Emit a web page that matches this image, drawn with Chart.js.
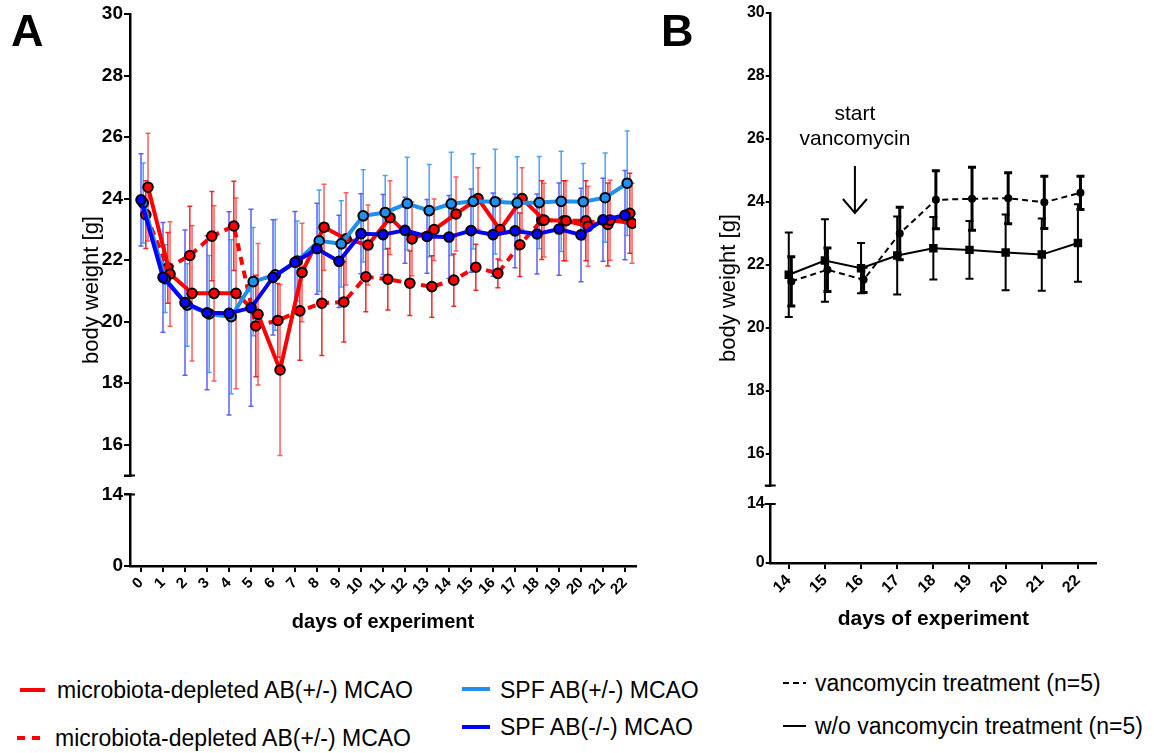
<!DOCTYPE html>
<html><head><meta charset="utf-8">
<script src="https://cdn.jsdelivr.net/npm/chart.js@4.4.1/dist/chart.umd.min.js"></script>
<style>
html,body{margin:0;padding:0;background:#fff;width:1154px;height:753px;overflow:hidden;font-family:"Liberation Sans",Arial,sans-serif;}
.abs{position:absolute;}
.t{position:absolute;white-space:nowrap;color:#000;}
</style></head><body>
<div class="abs" style="left:0;top:0;width:650px;height:640px;"><canvas id="ca" width="650" height="640"></canvas></div>
<div class="abs" style="left:650px;top:0;width:504px;height:640px;"><canvas id="cb" width="504" height="640"></canvas></div>

<div class="t" style="left:11px;top:8px;font-size:45px;line-height:45px;font-weight:bold;">A</div>
<div class="t" style="left:661px;top:8px;font-size:45px;line-height:45px;font-weight:bold;">B</div>
<div class="t" style="left:91px;top:290px;font-size:22px;line-height:24px;transform:translate(-50%,-50%) rotate(-90deg);">body weight [g]</div>
<div class="t" style="left:728px;top:288px;font-size:22px;line-height:24px;transform:translate(-50%,-50%) rotate(-90deg);">body weight [g]</div>

<!-- legends -->
<svg class="abs" style="left:0;top:660px;" width="1154" height="93">
  <line x1="20" y1="30" x2="45" y2="30" stroke="#ff0000" stroke-width="4"/>
  <line x1="17" y1="78" x2="42" y2="78" stroke="#ff0000" stroke-width="4" stroke-dasharray="8,7"/>
  <line x1="462" y1="29" x2="490" y2="29" stroke="#1e90f0" stroke-width="4"/>
  <line x1="462" y1="67" x2="490" y2="67" stroke="#0000ff" stroke-width="4"/>
  <line x1="783" y1="23" x2="806" y2="23" stroke="#000" stroke-width="2" stroke-dasharray="6,4"/>
  <line x1="783" y1="66" x2="806" y2="66" stroke="#000" stroke-width="2"/>
</svg>
<div class="t" style="left:57px;top:690px;font-size:23px;line-height:26px;transform:translateY(-50%);">microbiota-depleted AB(+/-) MCAO</div>
<div class="t" style="left:55px;top:738px;font-size:23px;line-height:26px;transform:translateY(-50%);">microbiota-depleted AB(+/-) MCAO</div>
<div class="t" style="left:500px;top:690px;font-size:23px;line-height:26px;transform:translateY(-50%);">SPF AB(+/-) MCAO</div>
<div class="t" style="left:500px;top:727px;font-size:23px;line-height:26px;transform:translateY(-50%);">SPF AB(-/-) MCAO</div>
<div class="t" style="left:815px;top:683px;font-size:23px;line-height:26px;transform:translateY(-50%);">vancomycin treatment (n=5)</div>
<div class="t" style="left:815px;top:726px;font-size:23px;line-height:26px;transform:translateY(-50%);">w/o vancomycin treatment (n=5)</div>

<script>
// ---------------- DATA ----------------
const daysA = [0,1,2,3,4,5,6,7,8,9,10,11,12,13,14,15,16,17,18,19,20,21,22];
// microbiota-depleted AB(+/-) MCAO (solid red)
const rsMean = [24.37,21.55,20.92,20.92,20.92,20.24,18.43,21.6,23.07,22.69,22.49,23.38,22.69,22.99,23.5,24.0,22.99,24.0,23.3,23.28,23.1,23.3,23.2];
const rsErr  = [1.75,1.7,2.2,2.85,3.1,2.3,2.78,1.6,1.4,1.5,1.3,1.2,1.2,1.0,1.2,1.0,1.0,1.0,1.2,1.3,1.3,1.3,1.3];
// microbiota-depleted AB(+/-) MCAO (dashed red)
const rdMean = [23.48,21.75,22.15,22.78,23.11,19.86,20.04,20.35,20.6,20.64,21.46,21.38,21.25,21.14,21.35,21.77,21.57,22.5,23.3,23.28,23.28,23.16,23.52];
const rdErr  = [1.1,1.15,1.6,1.45,1.45,1.65,1.2,1.6,1.7,1.3,1.14,1.0,1.05,1.0,0.85,0.75,0.47,1.03,1.28,1.3,1.3,1.35,1.3];
// SPF AB(+/-) MCAO (light blue)
const lbMean = [23.86,21.4,20.54,20.25,20.16,21.3,21.52,21.97,22.63,22.53,23.44,23.55,23.84,23.61,23.83,23.91,23.9,23.86,23.87,23.91,23.9,24.03,24.5];
const lbErr  = [1.3,1.1,1.34,1.9,2.5,1.76,1.8,1.3,1.65,1.4,1.5,1.2,1.5,1.5,1.68,1.55,1.7,1.5,1.5,1.63,1.24,1.45,1.7];
// SPF AB(-/-) MCAO (dark blue)
const dbMean = [23.96,21.44,20.62,20.29,20.27,20.45,21.44,21.93,22.37,21.96,22.86,22.83,22.97,22.77,22.75,22.96,22.83,22.95,22.85,23.01,22.82,23.31,23.46];
const dbErr  = [1.5,1.78,2.36,2.5,3.3,3.2,1.87,1.65,1.48,1.5,1.3,1.3,1.07,1.2,1.35,1.35,1.35,1.2,1.3,1.5,1.52,1.35,1.45];

const daysB = [14,15,16,17,18,19,20,21,22];
const vancoMean = [21.48,21.85,21.53,23.0,24.07,24.1,24.12,23.99,24.29];
const vancoErr  = [0.78,0.69,0.4,0.83,0.92,1.0,0.81,0.83,0.53];
const woMean    = [21.69,22.14,21.9,22.3,22.53,22.48,22.4,22.33,22.7];
const woErr     = [1.34,1.31,0.8,1.24,0.99,0.92,1.2,1.15,1.23];

const yTicksUpper = [16,18,20,22,24,26,28,30];
const yTicksLower = [0,14];
const annotation = {x: 15.83, line1: 'start', line2: 'vancomycin', y1: 26.78, y2: 25.98, arrowFrom: 25.14, arrowTo: 23.65};

// ---------------- HELPERS ----------------
Chart.defaults.font.family = '"Liberation Sans", Arial, sans-serif';
Chart.defaults.color = '#000';

function pts(days, vals, off) { return days.map((d, i) => ({x: d + off, y: vals[i]})); }

const errorBars = {
  id: 'errorBars',
  beforeDatasetsDraw(chart) {
    const ctx = chart.ctx;
    chart.data.datasets.forEach((ds, i) => {
      if (!ds.errors) return;
      const meta = chart.getDatasetMeta(i);
      const ys = chart.scales[meta.yAxisID];
      ctx.save();
      ctx.strokeStyle = ds.errColor;
      ctx.lineWidth = ds.errWidth;
      const cap = ds.errCap;
      meta.data.forEach((pt, j) => {
        const v = ds.data[j].y, e = ds.errors[j];
        const x = pt.x, y1 = ys.getPixelForValue(v + e), y2 = ys.getPixelForValue(v - e);
        ctx.beginPath();
        ctx.moveTo(x, y1); ctx.lineTo(x, y2);
        ctx.moveTo(x - cap, y1); ctx.lineTo(x + cap, y1);
        ctx.moveTo(x - cap, y2); ctx.lineTo(x + cap, y2);
        ctx.stroke();
      });
      ctx.restore();
    });
  }
};

const axisCaps = {
  id: 'axisCaps',
  afterDraw(chart) {
    const ctx = chart.ctx, top = chart.scales.yTop, bot = chart.scales.yBot;
    const x = chart.chartArea.left;
    ctx.save();
    ctx.strokeStyle = '#000'; ctx.lineWidth = 2;
    ctx.beginPath();
    const a = top.getPixelForValue(15), b = bot.getPixelForValue(14);
    ctx.moveTo(x - 6, a); ctx.lineTo(x + 5, a);
    ctx.moveTo(x - 6, b); ctx.lineTo(x + 5, b);
    ctx.stroke();
    ctx.restore();
  }
};

function zeroPad(s) { s.paddingLeft = 0; s.paddingRight = 0; s.paddingTop = 0; s.paddingBottom = 0; }

function makeX(days, min, max, tickSize, titleSize, titlePad, height) {
  return {
    type: 'linear', position: 'bottom', min: min, max: max,
    afterBuildTicks: s => { s.ticks = days.map(v => ({value: v})); },
    afterFit: s => { s.height = height; zeroPad(s); },
    ticks: {autoSkip: false, maxRotation: 45, minRotation: 45, padding: 2, color: '#000',
            font: {size: tickSize, weight: 'bold'}, callback: v => String(v)},
    grid: {drawOnChartArea: false, drawTicks: true, tickLength: 6, color: '#000', lineWidth: 2},
    border: {display: true, color: '#000', width: 2.5},
    title: {display: true, text: 'days of experiment', color: '#000',
            font: {size: titleSize, weight: 'bold'}, padding: {top: 0, bottom: titlePad}}
  };
}

function makeYScales(width, wTop, wGap, wBot, tickSize, tickLen) {
  const common = {
    position: 'left', stack: 'yy',
    border: {display: true, color: '#000', width: 2.5},
    grid: {drawOnChartArea: false, drawTicks: true, tickLength: tickLen, color: '#000', lineWidth: 2},
    ticks: {padding: 1, color: '#000', font: {size: tickSize, weight: 'bold'}}
  };
  return {
    yTop: Object.assign({}, common, {
      type: 'linear', weight: 3, stackWeight: wTop, min: 15, max: 30,
      afterBuildTicks: s => { s.ticks = [15].concat(yTicksUpper).map(v => ({value: v})); },
      afterFit: s => { s.width = width; zeroPad(s); },
      ticks: Object.assign({}, common.ticks, {callback: v => (v === 15 ? '' : String(v))})
    }),
    yGap: {
      type: 'linear', position: 'left', stack: 'yy', weight: 2, stackWeight: wGap, min: 0, max: 1,
      afterFit: s => { s.width = width; zeroPad(s); },
      ticks: {display: false}, grid: {display: false}, border: {display: false}
    },
    yBot: Object.assign({}, common, {
      type: 'linear', weight: 1, stackWeight: wBot, min: 0, max: 14,
      afterBuildTicks: s => { s.ticks = yTicksLower.map(v => ({value: v})); },
      afterFit: s => { s.width = width; zeroPad(s); },
      ticks: Object.assign({}, common.ticks, {callback: v => String(v)})
    })
  };
}

function seriesA(label, mean, err, off, color, errColor, dash, order) {
  return {
    label: label, data: pts(daysA, mean, off), errors: err, errColor: errColor, errWidth: 1.5, errCap: 2.5,
    yAxisID: 'yTop', xAxisID: 'x', order: order,
    borderColor: color, borderWidth: 4, borderDash: dash, backgroundColor: color,
    pointRadius: 4.8, pointBorderWidth: 2, pointBorderColor: '#000', pointBackgroundColor: color,
    tension: 0, fill: false
  };
}

// ---------------- PANEL A ----------------
new Chart(document.getElementById('ca'), {
  type: 'line',
  data: {datasets: [
    seriesA('SPF AB(-/-) MCAO', dbMean, dbErr, 0, '#0000ff', 'rgba(40,40,255,0.75)', [], 0),
    seriesA('SPF AB(+/-) MCAO', lbMean, lbErr, 0.1, '#1e90f0', 'rgba(30,140,255,0.8)', [], 1),
    seriesA('microbiota-depleted AB(+/-) MCAO', rsMean, rsErr, 0.32, '#ff0000', 'rgba(255,40,40,0.75)', [], 2),
    seriesA('microbiota-depleted AB(+/-) MCAO', rdMean, rdErr, 0.22, '#ff0000', 'rgba(240,0,0,0.85)', [8, 6], 3)
  ]},
  options: {
    responsive: false, animation: false,
    layout: {padding: {left: 0, top: 14, right: 14, bottom: 0}},
    plugins: {legend: {display: false}, tooltip: {enabled: false}},
    scales: Object.assign({x: makeX(daysA, -0.5, 22.5, 15, 20, 6, 74)},
                          makeYScales(130, 461.5, 18.9, 71.6, 19, 6))
  },
  plugins: [errorBars, axisCaps]
});

// ---------------- PANEL B ----------------
const annotPlugin = {
  id: 'annot',
  afterDatasetsDraw(chart) {
    const ctx = chart.ctx, xs = chart.scales.x, ys = chart.scales.yTop;
    const x = xs.getPixelForValue(annotation.x);
    ctx.save();
    ctx.fillStyle = '#000';
    ctx.font = '21px "Liberation Sans", Arial, sans-serif';
    ctx.textAlign = 'center'; ctx.textBaseline = 'middle';
    ctx.fillText(annotation.line1, x, ys.getPixelForValue(annotation.y1));
    ctx.fillText(annotation.line2, x, ys.getPixelForValue(annotation.y2));
    const a = ys.getPixelForValue(annotation.arrowFrom), b = ys.getPixelForValue(annotation.arrowTo);
    ctx.strokeStyle = '#000'; ctx.lineWidth = 2;
    ctx.beginPath();
    ctx.moveTo(x, a); ctx.lineTo(x, b);
    ctx.moveTo(x - 12, b - 14); ctx.lineTo(x, b); ctx.lineTo(x + 12, b - 14);
    ctx.stroke();
    ctx.restore();
  }
};

new Chart(document.getElementById('cb'), {
  type: 'line',
  data: {datasets: [
    {label: 'vancomycin treatment (n=5)', data: pts(daysB, vancoMean, 0.07), errors: vancoErr,
     errColor: '#000', errWidth: 3, errCap: 4, yAxisID: 'yTop', xAxisID: 'x', order: 0,
     borderColor: '#000', borderWidth: 2, borderDash: [6, 4], backgroundColor: '#000',
     pointStyle: 'circle', pointRadius: 4, pointBorderWidth: 0, pointBackgroundColor: '#000', tension: 0},
    {label: 'w/o vancomycin treatment (n=5)', data: pts(daysB, woMean, 0), errors: woErr,
     errColor: '#000', errWidth: 2, errCap: 4, yAxisID: 'yTop', xAxisID: 'x', order: 1,
     borderColor: '#000', borderWidth: 2, backgroundColor: '#000',
     pointStyle: 'rect', pointRadius: 6, pointBorderWidth: 0, pointBackgroundColor: '#000', tension: 0}
  ]},
  options: {
    responsive: false, animation: false,
    layout: {padding: {left: 0, top: 13, right: 58, bottom: 0}},
    plugins: {legend: {display: false}, tooltip: {enabled: false}},
    scales: Object.assign({x: makeX(daysB, 13.5, 22.5, 16, 21, 8, 77)},
                          makeYScales(120.7, 472.5, 18.5, 59, 16, 5))
  },
  plugins: [errorBars, axisCaps, annotPlugin]
});
</script>
</body></html>
